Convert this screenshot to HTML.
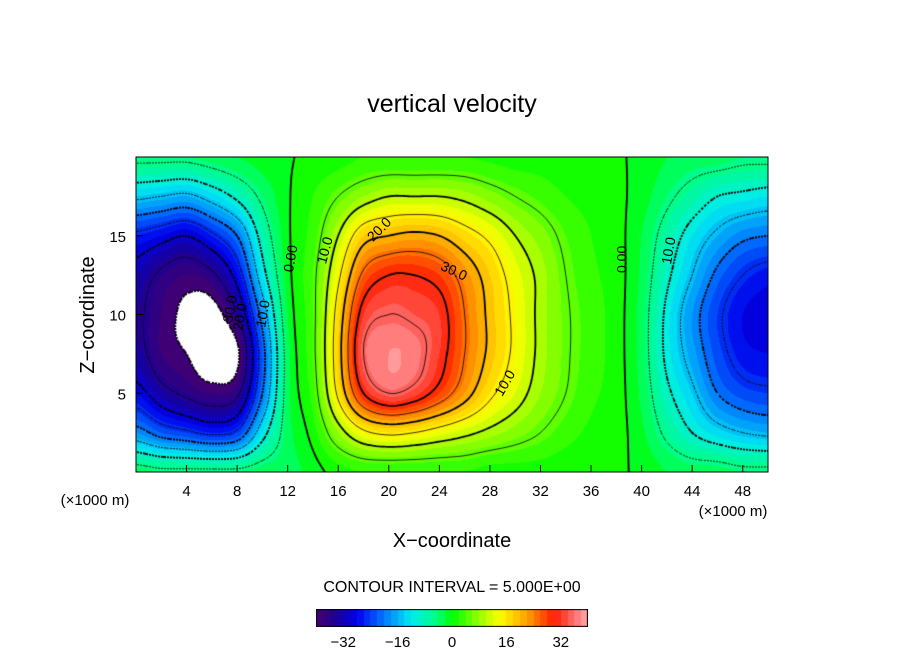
<!DOCTYPE html>
<html><head><meta charset="utf-8">
<style>
body{margin:0;background:#fff;width:904px;height:654px;overflow:hidden;font-family:"Liberation Sans",sans-serif;}
#wrap{position:relative;width:904px;height:654px;}
canvas{position:absolute;}
svg{position:absolute;left:0;top:0;}
</style></head>
<body>
<div id="wrap">
<canvas id="field" width="632" height="315" style="left:136px;top:157px"></canvas>
<canvas id="cbar" width="272" height="18" style="left:316px;top:609px"></canvas>
<svg id="ov" width="904" height="654" font-family="Liberation Sans, sans-serif">
<text x="452" y="112" font-size="25" text-anchor="middle">vertical velocity</text>
<text transform="translate(94,315) rotate(-90)" font-size="20" text-anchor="middle">Z−coordinate</text>
<text x="452" y="547" font-size="20" text-anchor="middle">X−coordinate</text>
<text x="95" y="505" font-size="15" text-anchor="middle">(×1000 m)</text>
<text x="733" y="516" font-size="15" text-anchor="middle">(×1000 m)</text>
<text x="452" y="592" font-size="16" text-anchor="middle">CONTOUR INTERVAL = 5.000E+00</text>
<g id="axes"></g>
</svg>
</div>
<script>
const xs=[0,2,4,6,8,10,12,14,16,18,20,22,24,26,28,30,32,34,36,38,40,42,44,46,48,50];
const zs=[0,2.5,5,7.5,10,12.5,15,17.5,20];
const vals=[
[-3,-18,-28,-33,-34,-32,-26,-14,-4],
[-4,-22,-33,-38,-38,-36,-28,-15,-4],
[-4,-24,-36,-40,-41,-38,-30,-16,-4],
[-4,-26,-38,-43,-42,-36,-26,-13,-3],
[-4,-24,-36,-41,-35,-28,-20,-9,-2],
[-3,-12,-20,-22,-18,-12,-8,-4,-1],
[-3,-3,-3,-3,-2,-1,-0.5,-0.3,-0.2],
[-1,1,3,4,4,4,3,2,0.5],
[1,8,16,18,17,14,10,5,1],
[2,14,30,35,32,26,18,8,2],
[2,16,35,38,35,30,20,10,2],
[2,15,33,37,34,30,21,10,2],
[2,13,28,32,32,28,20,10,2],
[2,11,22,25,25,23,17,9,2],
[1,9,16,19,19,18,14,7,1.5],
[1,7,12,14,14,13,10,5,1],
[1,5,8,9,9,9,7,3.5,1],
[0.5,3,5,5.5,5.5,5,4,2,0.5],
[0.3,1.5,2.5,3,3,2.5,2,1.2,0.3],
[0.3,0.8,1,1,1,1,0.8,0.5,0.2],
[-0.5,-1.5,-2.5,-3,-3,-2.5,-2,-1,-0.5],
[-2,-6,-9,-11,-11,-9,-7,-4,-2],
[-3,-10,-14,-17,-18,-15,-12,-7,-3],
[-3,-13,-20,-23,-24,-21,-16,-10,-3],
[-4,-15,-23,-27,-28,-25,-19,-11,-4],
[-4,-16,-24,-28,-29,-27,-20,-12,-4]];
const xTicks=[4,8,12,16,20,24,28,32,36,40,44,48];
const zTicks=[5,10,15];
const cbTicks=[-32,-16,0,16,32];
const levels=[-40,-35,-30,-25,-20,-15,-10,-5,0,5,10,15,20,25,30,35,40];

const PX=136,PY=157,PW=632,PH=315;
function sx(x){return PX+x/50*PW;}
function sz(z){return PY+PH-z/20*PH;}
function cr(p0,p1,p2,p3,t){return 0.5*((2*p1)+(-p0+p2)*t+(2*p0-5*p1+4*p2-p3)*t*t+(-p0+3*p1-3*p2+p3)*t*t*t);}
function gv(i,j){i=Math.max(0,Math.min(xs.length-1,i));j=Math.max(0,Math.min(zs.length-1,j));return vals[i][j];}
function field(x,z){
  const fx=x/2,fz=z/2.5;
  let i=Math.min(xs.length-2,Math.max(0,Math.floor(fx)));
  let j=Math.min(zs.length-2,Math.max(0,Math.floor(fz)));
  const tx=Math.max(0,Math.min(1,fx-i)),tz=Math.max(0,Math.min(1,fz-j));
  const r=[];
  for(let k=-1;k<=2;k++){r.push(cr(gv(i-1,j+k),gv(i,j+k),gv(i+1,j+k),gv(i+2,j+k),tx));}
  return cr(r[0],r[1],r[2],r[3],tz);
}
const stops=[[-40,[70,0,110]],[-34,[25,0,150]],[-28,[0,0,235]],[-20,[0,120,255]],[-12,[0,235,240]],[-4,[0,255,120]],[0,[0,255,0]],[8,[150,255,0]],[14,[255,255,0]],[22,[255,160,0]],[30,[255,30,0]],[36,[255,110,110]],[40,[255,170,170]]];
function cmap(v){
  if(v<-40) return [255,255,255];
  v=Math.floor(v/2)*2+1;
  v=Math.min(40,v);
  for(let k=0;k<stops.length-1;k++){
    if(v<=stops[k+1][0]){const a=stops[k],b=stops[k+1],t=(v-a[0])/(b[0]-a[0]);
      return a[1].map((c,n)=>Math.round(c+(b[1][n]-c)*t));}
  }
  return stops[stops.length-1][1];
}
const cv=document.getElementById('field'),ctx=cv.getContext('2d');
const img=ctx.createImageData(PW,PH);
for(let py=0;py<PH;py++)for(let px=0;px<PW;px++){
  const x=(px+0.5)/PW*50,z=(PH-py-0.5)/PH*20;
  const c=cmap(field(x,z)),o=(py*PW+px)*4;
  img.data[o]=c[0];img.data[o+1]=c[1];img.data[o+2]=c[2];img.data[o+3]=255;
}
ctx.putImageData(img,0,0);
const st=3,nx=Math.ceil(PW/st)+1,ny=Math.ceil(PH/st)+1;
const g=[];
for(let j=0;j<ny;j++){g[j]=[];for(let i=0;i<nx;i++){g[j][i]=field(Math.min(PW,i*st)/PW*50,(PH-Math.min(PH,j*st))/PH*20);}}
levels.forEach(L=>{
  ctx.beginPath();
  for(let j=0;j<ny-1;j++)for(let i=0;i<nx-1;i++){
    const c=[[i,j],[i+1,j],[i+1,j+1],[i,j+1]];
    const pts=[];
    for(let e=0;e<4;e++){
      const a=c[e],b=c[(e+1)%4],va=g[a[1]][a[0]],vb=g[b[1]][b[0]];
      if((va<L)!==(vb<L)){const t=(L-va)/(vb-va);pts.push([(a[0]+(b[0]-a[0])*t)*st,(a[1]+(b[1]-a[1])*t)*st]);}
    }
    for(let k=0;k+1<pts.length;k+=2){ctx.moveTo(pts[k][0],pts[k][1]);ctx.lineTo(pts[k+1][0],pts[k+1][1]);}
  }
  ctx.strokeStyle='#000';
  ctx.lineWidth=(L%10===0)?1.8:0.8;
  ctx.setLineDash(L<0?[2,2]:[]);
  ctx.stroke();
});
const cb=document.getElementById('cbar').getContext('2d');
for(let px=0;px<272;px++){const v=-40+(px+0.5)/272*80;const c=cmap(Math.min(39.9,v));cb.fillStyle=`rgb(${c})`;cb.fillRect(px,0,1,18);}
cb.strokeStyle='#000';cb.lineWidth=1;cb.strokeRect(0.5,0.5,271,17);
const ns='http://www.w3.org/2000/svg',ax=document.getElementById('axes');
function el(t,a){const e=document.createElementNS(ns,t);for(const k in a)e.setAttribute(k,a[k]);ax.appendChild(e);return e;}
const fr=el('rect',{x:PX,y:PY,width:PW,height:PH,fill:'none',stroke:'#000','stroke-width':1});


xTicks.forEach(v=>{
  const l=el('line',{x1:sx(v),x2:sx(v),y1:PY+PH,y2:PY+PH-7,stroke:'#000'});
  
  
  const t=el('text',{x:sx(v),y:PY+PH+24,'font-size':15,'text-anchor':'middle'});t.textContent=v;
  
  
});
zTicks.forEach(v=>{
  const l=el('line',{x1:PX,x2:PX+7,y1:sz(v),y2:sz(v),stroke:'#000'});
  
  
  const t=el('text',{x:PX-10,y:sz(v)+6,'font-size':15,'text-anchor':'end'});t.textContent=v;
  
  
});
cbTicks.forEach(v=>{
  const x=316+(v+40)/80*272;
  const t=el('text',{x:x,y:647,'font-size':15,'text-anchor':'middle'});t.textContent=(v<0?'−'+(-v):v);
  
  
});
const labs=[[12.6,13.5,'0.00',-80],[38.8,13.5,'0.00',-90],[15.3,14,'10.0',-75],[19.5,15.2,'20.0',-45],[25,12.5,'30.0',25],[29.5,5.5,'10.0',-60],[42.5,14,'10.0',-80],[10.4,10,'10.0',-80],[8.6,9.8,'20.0',-80],[7.8,10.3,'30.0',-80]];
labs.forEach(a=>{
  const t=el('text',{x:sx(a[0]),y:sz(a[1]),'font-size':14,'text-anchor':'middle',transform:`rotate(${a[3]},${sx(a[0])},${sz(a[1])})`});
  t.textContent=a[2];
  
  
});
</script>
</body></html>
